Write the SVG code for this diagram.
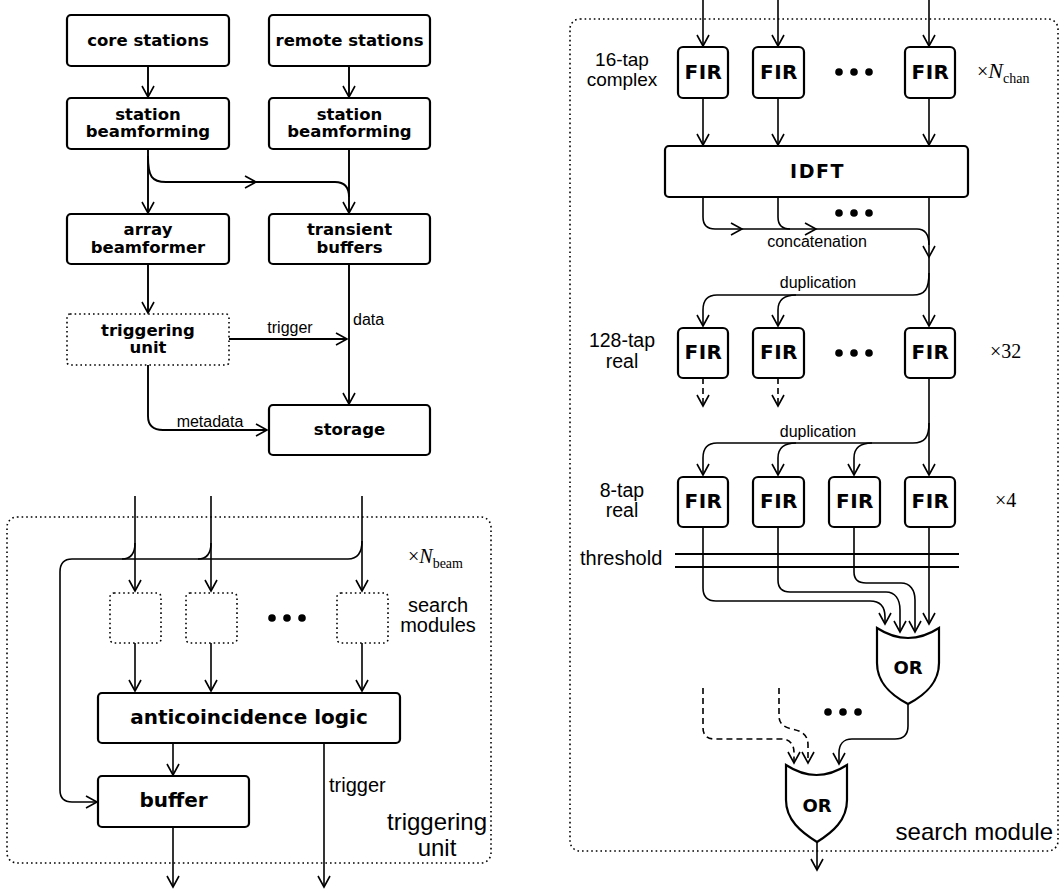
<svg xmlns="http://www.w3.org/2000/svg" width="1060" height="894" viewBox="0 0 1060 894">
<style>
.box{fill:#fff;stroke:#000;stroke-width:2.2}
.dbox{fill:none;stroke:#000;stroke-width:1.6;stroke-dasharray:1.6 3}
.c{fill:none;stroke:#000;stroke-width:1.6}
.ct{fill:none;stroke:#000;stroke-width:1.9}
.a{marker-end:url(#ah)}
.dash{stroke-dasharray:6 4}
.b{font-family:"DejaVu Sans",Verdana,sans-serif;font-weight:bold;text-anchor:middle;fill:#000}
.fir{font-size:20px;letter-spacing:0.5px}
.r{font-family:"Liberation Sans",Arial,sans-serif;fill:#000}
.m{font-family:"Liberation Serif","Times New Roman",serif;fill:#000}
.dt{fill:#000}
</style>
<defs>
<marker id="ah" markerUnits="userSpaceOnUse" markerWidth="14" markerHeight="14" refX="12" refY="7" orient="auto" overflow="visible">
<path d="M1,1 L12,7 L1,13" fill="none" stroke="#000" stroke-width="1.6"/>
</marker>
</defs>
<rect width="1060" height="894" fill="#fff"/>

<g id="connectors">
<!-- top-left -->
<path class="ct a" d="M148,66 V97"/>
<path class="ct a" d="M349,66 V97"/>
<path class="ct a" d="M148,149 V213"/>
<path class="ct a" d="M148,156 C148,177 152,182 166,182 H256"/>
<path class="ct" d="M256,182 H335 C345,182 349,187 349,197"/>
<path class="ct a" d="M349,149 V213"/>
<path class="ct a" d="M148,264 V313"/>
<path class="ct a" d="M229,339 H347"/>
<path class="ct a" d="M349,264 V404"/>
<path class="ct a" d="M148,365 V416 C148,426 153,430 163,430 H267"/>
<!-- bottom-left -->
<path class="c a" d="M135,496 V591"/>
<path class="c a" d="M211,496 V591"/>
<path class="c a" d="M362,496 V591"/>
<path class="c" d="M135,543 C135,554 131,559 122,559"/>
<path class="c" d="M211,543 C211,554 207,559 198,559"/>
<path class="c a" d="M362,541 C362,553 358,559 348,559 H72 C64,559 60,564 60,572 V790 C60,798 64,802 72,802 H97"/>
<path class="c a" d="M135,643 V691"/>
<path class="c a" d="M211,643 V691"/>
<path class="c a" d="M362,643 V691"/>
<path class="c a" d="M173,743 V775"/>
<path class="c a" d="M324,743 V887"/>
<path class="c a" d="M173,827 V887"/>
<!-- right -->
<path class="c a" d="M703,0 V46"/>
<path class="c a" d="M778,0 V46"/>
<path class="c a" d="M929,0 V46"/>
<path class="c a" d="M703,98 V145"/>
<path class="c a" d="M778,98 V145"/>
<path class="c a" d="M929,98 V145"/>
<path class="c a" d="M703,197 V217 C703,225 707,229 715,229 H742"/>
<path class="c a" d="M742,229 H816"/>
<path class="c" d="M778,197 V217 C778,225 782,229 790,229"/>
<path class="c" d="M816,229 H917 C925,229 929,235 929,245"/>
<path class="c a" d="M929,197 V257"/>
<path class="c a" d="M929,257 V326"/>
<path class="c a" d="M929,273 C929,289 925,295 913,295 H717 C707,295 703,300 703,310 V326"/>
<path class="c a" d="M796,295 C784,295 778,300 778,310 V326"/>
<path class="c dash a" d="M703,378 V406"/>
<path class="c dash a" d="M778,378 V406"/>
<path class="c a" d="M929,378 V475"/>
<path class="c a" d="M929,423 C929,437 925,443 913,443 H717 C707,443 703,448 703,458 V475"/>
<path class="c a" d="M796,443 C784,443 778,448 778,458 V475"/>
<path class="c a" d="M872,443 C860,443 854,448 854,458 V475"/>
<path class="c a" d="M703,527 V588 C703,597 707,601 716,601 H870 C880,601 885,607 885,617 V624"/>
<path class="c a" d="M778,527 V580 C778,588 782,592 790,592 H886 C895,592 900,599 900,610 V632"/>
<path class="c a" d="M854,527 V572 C854,580 858,583 866,583 H901 C910,583 915,590 915,600 V632"/>
<path class="c a" d="M929,527 V624"/>
<path class="c a" d="M908,704 V726 C908,735 904,739 895,739 H852 C843,739 839,745 839,753 V764"/>
<path class="c dash a" d="M703,688 V728 C703,735 707,739 714,739 H782 C790,739 794,745 794,752 V763"/>
<path class="c dash a" d="M779,688 V716 C779,724 784,727 792,729 C802,731 808,735 808,745 V763"/>
<path class="c a" d="M817,842 V870"/>
</g>

<!-- top-left nodes -->
<g id="core-stations"><rect class="box" x="67" y="15" width="162" height="51" rx="4"/><text class="b" x="148" y="46" font-size="16.5">core stations</text></g>
<g id="remote-stations"><rect class="box" x="269" y="15" width="161" height="51" rx="4"/><text class="b" x="349.5" y="46" font-size="16.5">remote stations</text></g>
<g id="station-bf-left"><rect class="box" x="67" y="98" width="162" height="51" rx="4"/><text class="b" x="148" y="120" font-size="16.5">station</text><text class="b" x="148" y="137" font-size="16.5">beamforming</text></g>
<g id="station-bf-right"><rect class="box" x="269" y="98" width="161" height="51" rx="4"/><text class="b" x="349.5" y="120" font-size="16.5">station</text><text class="b" x="349.5" y="137" font-size="16.5">beamforming</text></g>
<g id="array-beamformer"><rect class="box" x="67" y="214" width="162" height="50" rx="4"/><text class="b" x="148" y="235" font-size="16.5">array</text><text class="b" x="148" y="253" font-size="16.5">beamformer</text></g>
<g id="transient-buffers"><rect class="box" x="269" y="214" width="161" height="50" rx="4"/><text class="b" x="349.5" y="235" font-size="16.5">transient</text><text class="b" x="349.5" y="253" font-size="16.5">buffers</text></g>
<g id="triggering-unit-top"><rect class="dbox" x="67" y="314" width="162" height="51" rx="3"/><text class="b" x="148" y="336" font-size="16.5">triggering</text><text class="b" x="148" y="353" font-size="16.5">unit</text></g>
<g id="storage"><rect class="box" x="269" y="405" width="161" height="50" rx="4"/><text class="b" x="349.5" y="435" font-size="16.5">storage</text></g>
<g id="top-labels">
<text class="r" x="290" y="333" font-size="16" text-anchor="middle">trigger</text>
<text class="r" x="353" y="325" font-size="16">data</text>
<text class="r" x="210" y="427" font-size="16" text-anchor="middle">metadata</text>
</g>

<!-- bottom-left: triggering unit detail -->
<g id="triggering-unit-frame"><rect class="dbox" x="7" y="517" width="484" height="346" rx="10"/>
<text class="r" x="437" y="830" font-size="24" text-anchor="middle">triggering</text>
<text class="r" x="437" y="856" font-size="24" text-anchor="middle">unit</text></g>
<g id="sm1"><rect class="dbox" x="110" y="593" width="51" height="50" rx="4"/></g>
<g id="sm2"><rect class="dbox" x="186" y="593" width="51" height="50" rx="4"/></g>
<g id="sm3"><rect class="dbox" x="337" y="593" width="51" height="50" rx="4"/></g>
<g id="sm-dots"><circle class="dt" cx="272" cy="618" r="3.8"/><circle class="dt" cx="287" cy="618" r="3.8"/><circle class="dt" cx="302" cy="618" r="3.8"/></g>
<g id="sm-labels">
<text class="m" x="408" y="563" font-size="20">×<tspan font-style="italic">N</tspan><tspan font-size="14" dy="5">beam</tspan></text>
<text class="r" x="438" y="612" font-size="20" text-anchor="middle">search</text>
<text class="r" x="438" y="632" font-size="20" text-anchor="middle">modules</text>
</g>
<g id="anticoincidence"><rect class="box" x="98" y="693" width="302" height="50" rx="4"/><text class="b" x="249" y="724" font-size="20">anticoincidence logic</text></g>
<g id="buffer"><rect class="box" x="98" y="776" width="151" height="51" rx="4"/><text class="b" x="173.5" y="807" font-size="20">buffer</text></g>
<text class="r" x="329" y="792" font-size="20">trigger</text>

<!-- right: search module -->
<g id="search-module-frame"><rect class="dbox" x="570" y="19" width="488" height="832" rx="10"/>
<text class="r" x="1053" y="840" font-size="24" text-anchor="end">search module</text></g>
<g id="row-labels">
<text class="r" x="622" y="66" font-size="19" text-anchor="middle">16-tap</text>
<text class="r" x="622" y="86" font-size="19" text-anchor="middle">complex</text>
<text class="r" x="622" y="347" font-size="19.5" text-anchor="middle">128-tap</text>
<text class="r" x="622" y="368" font-size="19.5" text-anchor="middle">real</text>
<text class="r" x="622" y="497" font-size="19.5" text-anchor="middle">8-tap</text>
<text class="r" x="622" y="517" font-size="19.5" text-anchor="middle">real</text>
<text class="r" x="580" y="565" font-size="20">threshold</text>
<text class="m" x="977" y="78" font-size="20">×<tspan font-style="italic" font-size="22">N</tspan><tspan font-size="14" dy="5">chan</tspan></text>
<text class="m" x="990" y="358" font-size="20">×32</text>
<text class="m" x="995" y="507" font-size="20">×4</text>
<text class="r" x="817" y="247" font-size="16" text-anchor="middle">concatenation</text>
<text class="r" x="818" y="288" font-size="16" text-anchor="middle">duplication</text>
<text class="r" x="818" y="437" font-size="16" text-anchor="middle">duplication</text>
</g>
<g id="fir-1-1"><rect class="box" x="678" y="47" width="50" height="51" rx="5"/><text class="b fir" x="703.5" y="79">FIR</text></g>
<g id="fir-1-2"><rect class="box" x="753" y="47" width="51" height="51" rx="5"/><text class="b fir" x="779" y="79">FIR</text></g>
<g id="fir-1-n"><rect class="box" x="905" y="47" width="50" height="51" rx="5"/><text class="b fir" x="930.5" y="79">FIR</text></g>
<g id="dots-1"><circle class="dt" cx="839" cy="72" r="3.8"/><circle class="dt" cx="854" cy="72" r="3.8"/><circle class="dt" cx="869" cy="72" r="3.8"/></g>
<g id="idft"><rect class="box" x="665" y="146" width="303" height="51" rx="4"/><text class="b" x="817.5" y="178" font-size="19" letter-spacing="1.5">IDFT</text></g>
<g id="dots-2"><circle class="dt" cx="839" cy="213" r="3.8"/><circle class="dt" cx="854" cy="213" r="3.8"/><circle class="dt" cx="869" cy="213" r="3.8"/></g>
<g id="fir-2-1"><rect class="box" x="678" y="328" width="50" height="50" rx="5"/><text class="b fir" x="703.5" y="359">FIR</text></g>
<g id="fir-2-2"><rect class="box" x="753" y="328" width="51" height="50" rx="5"/><text class="b fir" x="779" y="359">FIR</text></g>
<g id="fir-2-n"><rect class="box" x="905" y="328" width="50" height="50" rx="5"/><text class="b fir" x="930.5" y="359">FIR</text></g>
<g id="dots-3"><circle class="dt" cx="839" cy="353" r="3.8"/><circle class="dt" cx="854" cy="353" r="3.8"/><circle class="dt" cx="869" cy="353" r="3.8"/></g>
<g id="fir-3-1"><rect class="box" x="678" y="477" width="50" height="50" rx="5"/><text class="b fir" x="703.5" y="508">FIR</text></g>
<g id="fir-3-2"><rect class="box" x="753" y="477" width="51" height="50" rx="5"/><text class="b fir" x="779" y="508">FIR</text></g>
<g id="fir-3-3"><rect class="box" x="829" y="477" width="51" height="50" rx="5"/><text class="b fir" x="855" y="508">FIR</text></g>
<g id="fir-3-4"><rect class="box" x="905" y="477" width="50" height="50" rx="5"/><text class="b fir" x="930.5" y="508">FIR</text></g>
<g id="threshold"><path d="M675,554 H959 M675,567 H959" fill="none" stroke="#000" stroke-width="2"/></g>
<g id="or-1"><path class="box" d="M877,628 Q908,648 939,628 V663 C939,683 925,695 908,704 C891,695 877,683 877,663 Z"/><text class="b" x="908" y="674" font-size="18">OR</text></g>
<g id="dots-4"><circle class="dt" cx="828" cy="712" r="3.8"/><circle class="dt" cx="843" cy="712" r="3.8"/><circle class="dt" cx="858" cy="712" r="3.8"/></g>
<g id="or-2"><path class="box" d="M786,765 Q816.5,785 847,765 V800 C847,820 833,832 817,842 C801,832 786,820 786,800 Z"/><text class="b" x="817" y="812" font-size="18">OR</text></g>
</svg>
